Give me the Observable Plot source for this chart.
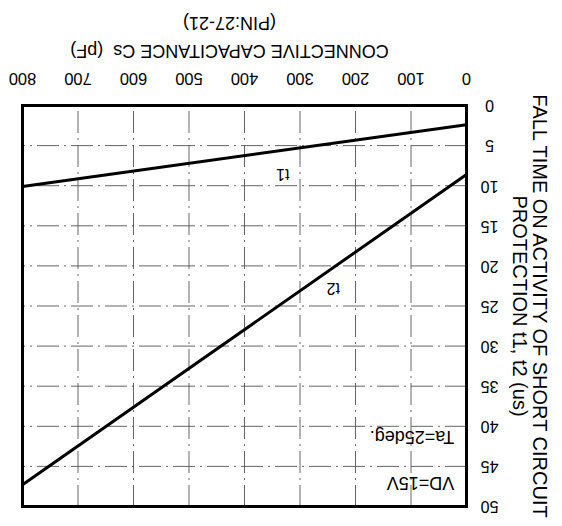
<!DOCTYPE html>
<html>
<head>
<meta charset="utf-8">
<script src="https://cdn.jsdelivr.net/npm/d3@7"></script>
<script src="https://cdn.jsdelivr.net/npm/@observablehq/plot@0.6"></script>
<style>
  html, body { margin: 0; padding: 0; background: #fff; overflow: hidden; }
  #wrap { width: 562px; height: 526px; transform: rotate(180deg); transform-origin: 50% 50%; }
  svg { font-family: "Liberation Sans", Arial, Helvetica, sans-serif; }
</style>
</head>
<body>
<div id="wrap"></div>
<script>
// Connective capacitance Cs (pF)
const capacitance = [0, 800];
// Fall time t1, t2 (us)
const t1 = [2.4, 10.1];
const t2 = [8.6, 47.3];
const xTicks = [0, 100, 200, 300, 400, 500, 600, 700, 800];
const yTicks = [0, 5, 10, 15, 20, 25, 30, 35, 40, 45, 50];
const curveLabels = ["t1", "t2"];
const curveLabelX = [331, 240];
const curveLabelY = [8.5, 22.8];
const conditions = ["VD=15V", "Ta=25deg."];
const conditionX = [22, 22];
const conditionY = [47.1, 41.3];
const xTitle = ["CONNECTIVE CAPACITANCE Cs  (pF)", "(PIN:27-21)"];
const yTitle = ["FALL TIME ON ACTIVITY OF SHORT CIRCUIT", "PROTECTION t1, t2 (us)"];

const lines = [
  ...capacitance.map((c, i) => ({curve: "t1", c, t: t1[i]})),
  ...capacitance.map((c, i) => ({curve: "t2", c, t: t2[i]}))
];
const labelRows = curveLabels.map((s, i) => ({s, c: curveLabelX[i], t: curveLabelY[i]}));
const condRows = conditions.map((s, i) => ({s, c: conditionX[i], t: conditionY[i]}));

const grid = {stroke: "#555", strokeWidth: 0.9, strokeDasharray: "22,5,2,5"};

const chart = Plot.plot({
  width: 562,
  height: 526,
  marginLeft: 95,
  marginRight: 23,
  marginTop: 19,
  marginBottom: 106,
  x: {domain: [0, 800]},
  y: {domain: [0, 50]},
  style: {fontFamily: "'Liberation Sans', Arial, sans-serif", color: "#000", background: "#fff"},
  marks: [
    Plot.ruleX(xTicks.slice(1, -1), grid),
    Plot.ruleY(yTicks.slice(1, -1), grid),
    Plot.axisX({anchor: "bottom", ticks: xTicks, tickSize: 0, tickPadding: 21, fontSize: 16.5, label: null}),
    Plot.axisY({anchor: "left", ticks: yTicks, tickSize: 0, tickPadding: 23, textAnchor: "middle", fontSize: 16, label: null}),
    Plot.line(lines, {x: "c", y: "t", z: "curve", stroke: "#000", strokeWidth: 3}),
    Plot.frame({stroke: "#000", strokeWidth: 3}),
    Plot.text(labelRows, {x: "c", y: "t", text: "s", fontSize: 16, fill: "#000"}),
    Plot.text(condRows, {x: "c", y: "t", text: "s", textAnchor: "start", fontSize: 18, fill: "#000"}),
    Plot.text([xTitle[0]], {x: 427, frameAnchor: "bottom", dy: 61, fontSize: 18, fill: "#000"}),
    Plot.text([xTitle[1]], {x: 427, frameAnchor: "bottom", dy: 89, fontSize: 18, fill: "#000"}),
    Plot.text([yTitle[0]], {frameAnchor: "left", dx: -73, rotate: -90, textAnchor: "middle", fontSize: 20, fill: "#000"}),
    Plot.text([yTitle[1]], {frameAnchor: "left", dx: -53, rotate: -90, textAnchor: "middle", fontSize: 20, fill: "#000"})
  ]
});
document.getElementById("wrap").appendChild(chart);
</script>
</body>
</html>
